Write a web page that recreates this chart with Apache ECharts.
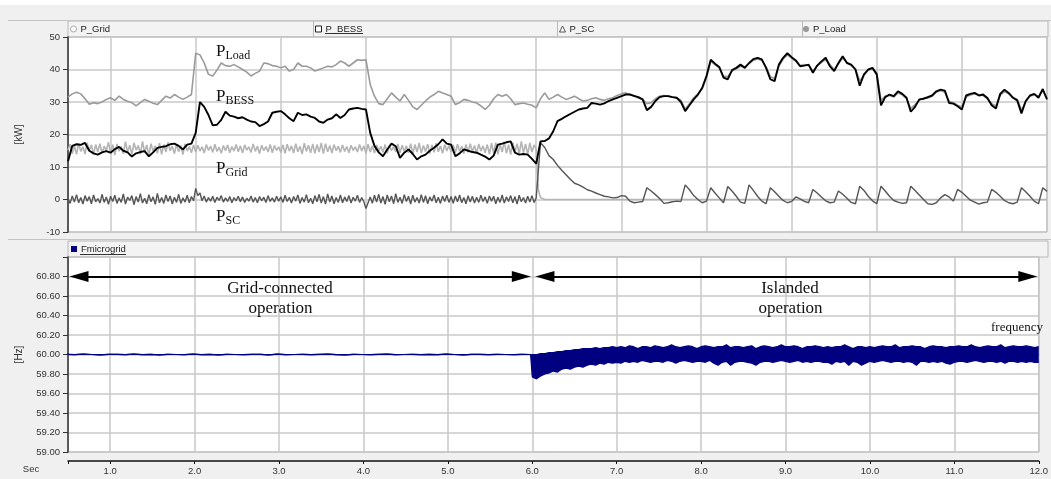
<!DOCTYPE html>
<html><head><meta charset="utf-8">
<script src="https://cdn.jsdelivr.net/npm/echarts@6/dist/echarts.min.js"></script>
<style>html,body{margin:0;padding:0;background:#f0f0f0}#c{width:1051px;height:479px}</style>
</head><body><div id="c"></div><script>
// ---- data ----
const pStart = 0.5, pStep = 0.05;
const pLoad = [
31.5,32.5,33.0,32.5,31.0,29.3,29.8,29.5,30.0,30.8,
31.3,30.5,31.8,30.8,30.2,29.8,28.8,29.8,30.8,30.2,
29.6,29.2,30.5,31.8,31.2,32.3,31.5,30.8,31.5,32.3,
45.0,44.5,42.0,38.5,38.0,39.8,42.0,41.2,41.0,41.5,
40.8,40.0,39.2,38.0,38.8,39.5,42.0,41.8,41.2,41.0,
40.5,41.0,39.5,40.0,42.0,41.0,41.0,40.5,39.5,40.0,
40.5,41.0,40.8,41.5,42.6,42.0,41.0,42.0,43.0,42.8,
43.0,35.4,31.8,29.5,29.2,31.0,32.8,31.5,30.3,32.3,
30.5,28.5,27.7,29.0,30.3,31.5,32.3,33.3,32.8,32.3,
31.8,29.2,29.8,30.8,30.5,30.0,29.7,28.8,27.7,29.0,
31.0,32.3,31.8,32.3,31.0,29.2,29.5,29.7,29.3,29.0,
28.2,31.0,32.8,30.8,31.5,32.3,31.5,30.8,31.2,31.8,
31.0,30.3,30.5,31.0,31.3,30.8,30.5,31.0,31.3,32.0,
32.5,32.8,32.3,31.8,31.2,30.8,29.5,29.8,31.0,31.8,
32.0,31.8,31.5,31.3,30.5,27.8,29.5,31.3,32.5,34.0,
37.5,42.5,41.5,40.5,38.0,37.8,39.5,40.2,41.0,40.8,
41.8,42.8,43.2,42.8,40.8,37.8,37.2,41.0,43.2,44.5,
43.5,42.5,41.2,41.5,41.2,39.5,41.0,42.2,43.0,41.5,
40.0,41.8,43.5,42.2,41.2,40.2,36.5,38.2,39.8,40.2,
39.0,30.5,31.8,32.0,31.5,32.8,32.2,31.0,28.0,29.2,
30.5,31.2,31.2,31.8,33.0,33.5,33.0,30.2,29.8,29.0,
28.5,31.5,32.2,32.5,32.2,32.0,31.0,29.5,28.8,32.0,
33.2,32.5,31.5,30.8,27.5,30.0,31.8,32.2,31.8,33.5,
31.0];
const pBess = [
11.8,16.5,17.0,16.8,17.4,15.0,14.2,13.8,14.5,14.9,
14.4,15.5,16.2,15.0,14.5,13.2,14.2,14.6,14.9,13.3,
14.5,15.9,16.2,16.4,17.0,17.2,16.5,15.4,16.9,17.2,
20.5,30.0,28.5,26.0,22.8,23.0,24.5,27.0,25.8,25.5,
25.0,25.3,24.6,24.0,23.8,22.6,23.2,24.0,26.7,27.0,
27.2,26.2,25.0,24.1,26.7,26.0,26.2,25.5,25.1,24.0,
23.6,24.6,25.0,26.2,25.1,26.0,27.7,28.0,28.2,27.9,
27.7,20.5,16.5,14.5,13.3,15.4,17.2,16.4,12.8,14.4,
15.4,14.0,12.3,13.3,13.8,15.0,15.9,17.0,18.5,17.2,
16.9,13.3,14.2,15.4,15.0,14.6,14.4,13.8,13.2,12.3,
13.5,16.9,17.2,17.6,17.9,14.4,13.8,14.0,13.8,12.5,
11.0,17.9,18.0,18.8,21.0,24.1,24.8,25.6,26.3,27.0,
27.7,28.0,28.2,29.7,29.5,29.2,29.6,30.3,30.8,31.3,
31.8,32.3,32.3,31.9,31.5,30.8,27.5,28.5,30.3,31.5,
31.8,31.8,31.5,31.3,30.0,27.2,29.0,30.8,32.3,34.4,
38.0,43.0,41.8,40.8,37.5,37.0,39.8,40.5,41.5,40.5,
42.0,43.2,43.6,43.1,40.5,37.0,36.4,41.5,43.6,45.0,
43.8,42.8,41.0,41.2,41.5,39.0,41.2,42.5,43.6,41.0,
39.5,42.0,44.1,42.0,41.5,40.0,35.0,38.5,40.0,40.5,
38.5,29.0,31.5,32.3,31.8,33.3,32.5,31.3,27.0,28.5,
30.8,31.0,31.5,32.0,33.3,33.8,33.5,29.7,29.5,28.7,
27.7,32.0,32.5,32.8,32.0,32.3,31.2,29.0,28.0,32.5,
33.8,32.8,31.3,30.5,26.5,30.3,32.0,32.5,31.3,34.0,
30.8];
// grid-connected noisy segments (0.5 s .. 5.975 s, step 0.025)
const noiseStart = 0.5, noiseStep = 0.025;
const pGridNoise = [
15.2,17.0,14.1,16.6,13.9,17.3,14.8,16.2,14.0,17.5,15.1,16.8,13.8,16.9,14.6,17.2,14.2,16.4,15.0,17.6,
14.3,16.9,13.7,17.1,14.9,16.3,14.1,17.8,14.5,16.7,13.9,17.4,15.2,16.6,14.0,17.9,14.4,16.8,13.6,17.2,
14.8,16.5,14.2,17.3,13.9,16.9,14.6,17.6,15.0,16.4,14.1,17.0,14.7,16.6,13.8,17.1,14.9,16.3,14.4,16.8,
14.6,16.7,14.9,16.2,14.3,16.9,15.1,16.4,14.5,17.0,14.8,16.1,14.2,16.6,15.0,16.8,14.4,16.3,14.9,16.9,
14.7,16.5,14.3,16.8,15.2,16.2,14.5,17.1,14.8,16.4,14.1,16.7,15.0,16.3,14.6,16.9,14.4,16.6,15.1,16.2,
14.5,16.8,14.2,17.0,14.9,16.5,14.3,17.2,14.7,16.4,14.0,17.3,14.8,16.7,14.4,17.1,14.2,16.9,14.6,17.4,
14.1,17.2,14.7,16.6,14.3,16.9,15.0,16.4,14.5,16.8,14.8,16.3,14.4,16.7,15.1,16.2,14.6,16.9,14.9,16.5,
14.2,17.0,14.6,16.5,14.3,16.8,14.9,16.4,14.5,16.9,14.2,16.6,15.0,16.3,14.6,17.1,14.4,16.7,14.8,16.5,
14.4,17.2,14.0,16.9,14.6,17.4,14.3,16.6,14.8,17.0,14.1,16.8,14.5,17.3,14.7,16.5,14.2,16.9,14.9,16.6,
14.6,16.8,14.3,17.0,14.8,16.4,14.1,16.9,14.5,17.2,14.7,16.6,14.2,17.1,14.9,16.5,14.4,16.9,14.0,17.3,
14.3,17.5,13.9,17.0,14.6,17.8,14.2,16.9,13.8,17.6,14.5,17.2,14.0,17.9,14.4,17.1,13.9,17.4,14.6,16.8];
const pGridAfterT = [6.0, 6.025, 6.05, 6.1, 12.0];
const pGridAfter  = [15.5, 3.0, 0.6, 0.0, 0.0];
const pScNoise = [
0.4,-1.2,1.1,-0.8,1.5,-1.0,0.6,-1.4,1.2,-0.5,0.9,-1.3,1.4,-0.7,0.3,-1.1,1.6,-0.9,0.8,-1.5,
1.0,-0.6,1.3,-1.2,0.5,-0.9,1.7,-1.4,0.7,-0.3,1.2,-1.6,0.9,-0.8,1.8,-1.1,0.4,-1.3,1.5,-0.7,
0.8,-1.5,1.9,-1.0,0.6,-1.2,1.4,-0.6,1.1,-1.4,0.7,-0.9,1.6,-1.2,0.5,-0.8,1.3,-1.0,0.9,-0.4,
3.4,1.2,2.0,-0.4,1.1,-0.8,0.6,-0.5,1.0,-0.9,0.7,-0.3,1.2,-0.8,0.5,-0.6,0.9,-1.0,0.6,-0.4,
1.0,-0.7,0.8,-0.9,0.4,-0.5,1.1,-0.8,0.6,-1.0,0.9,-0.4,0.7,-0.9,1.2,-0.6,0.5,-0.8,1.0,-0.5,
0.8,-0.9,1.3,-0.6,0.7,-1.1,0.9,-0.5,1.4,-1.2,0.6,-0.8,1.5,-1.0,0.4,-1.3,1.2,-0.7,1.6,-1.1,
0.9,-1.4,1.7,-0.8,1.1,-1.3,0.6,-0.9,1.4,-1.0,0.8,-0.6,1.2,-1.1,0.7,-0.5,1.3,-0.9,0.6,-0.7,
-2.8,-1.0,0.8,-1.2,1.3,-0.8,1.6,-1.1,0.9,-1.5,1.4,-0.7,1.1,-1.3,1.8,-0.9,0.7,-1.2,1.5,-0.6,
1.0,-1.4,1.3,-0.8,0.6,-1.1,1.5,-0.9,1.2,-1.3,0.8,-0.5,1.4,-1.0,0.7,-1.2,1.1,-0.6,1.3,-0.9,
0.9,-1.2,1.1,-0.7,1.4,-1.0,0.6,-1.3,1.2,-0.8,1.0,-1.1,0.7,-0.9,1.3,-0.6,0.8,-1.2,1.1,-0.5,
1.0,-1.3,0.7,-0.9,1.4,-1.1,0.8,-0.6,1.2,-1.0,0.9,-1.4,1.3,-0.7,0.6,-1.1,1.0,-0.8,1.2,-0.9];
// islanded P_SC (6.0 .. 12.0 s, step 0.05)
const scAfterStart = 6.0, scAfterStep = 0.05;
const pScAfter = [
0.5,17.5,16.0,13.5,12.3,10.5,9.0,7.6,6.2,5.0,
4.5,3.8,3.0,2.6,2.0,1.5,1.0,0.8,0.5,0.6,
1.2,1.0,-0.5,-1.0,-0.8,-0.6,3.6,2.6,1.5,0.3,
-1.2,-1.0,-0.7,-0.5,-0.6,4.5,3.0,1.2,0.0,-1.0,
-0.5,3.6,2.0,0.5,-1.0,4.0,2.6,1.0,-0.8,-1.2,
4.5,2.8,1.0,-0.5,-1.3,3.6,2.4,1.0,-0.3,-1.0,
-0.6,0.8,0.2,-0.6,-1.0,3.1,2.0,0.8,-0.4,-1.0,
-0.8,2.6,1.6,0.4,-0.9,-1.3,4.1,2.8,1.0,-0.4,
-1.3,4.1,2.6,1.0,-0.3,-0.8,-1.2,-1.0,4.1,2.8,
1.4,0.0,-1.3,-1.5,-1.0,0.5,1.5,0.8,-0.5,3.1,
2.2,1.0,-0.2,-0.8,-1.4,-1.0,-0.8,3.1,2.2,1.0,
-0.3,-1.0,-1.3,-0.8,3.6,2.4,1.0,-0.5,-1.3,3.6,
2.5];
// frequency: grid-connected trace (0.48 .. 5.98 s, step 0.1)
const fGridStart = 0.48, fGridStep = 0.1;
const fGrid = [
60.002,59.998,60.003,60.000,59.997,60.002,60.001,59.998,60.003,59.999,
60.001,59.997,60.002,60.000,59.998,60.003,59.999,60.001,59.996,60.002,
60.000,59.998,60.002,60.001,59.997,60.003,59.999,60.000,60.002,59.998,
60.001,60.003,59.999,59.997,60.002,60.000,59.998,60.001,60.003,59.999,
60.000,60.002,59.998,60.001,59.999,60.003,60.000,59.997,60.002,60.001,
59.999,60.002,60.000,59.998,60.001,60.000];
// frequency: islanded noise envelope (6.0 .. 12.0 s, step 0.05)
const fIslandStart = 6.0, fIslandStep = 0.05;
const fUpper = [
60.00,60.00,60.01,60.01,60.02,60.02,60.03,60.03,60.04,60.04,
60.05,60.05,60.06,60.06,60.06,60.07,60.06,60.07,60.07,60.08,
60.07,60.08,60.07,60.09,60.08,60.06,60.08,60.08,60.07,60.09,
60.08,60.07,60.08,60.10,60.08,60.07,60.08,60.09,60.08,60.06,
60.08,60.09,60.08,60.07,60.08,60.08,60.10,60.07,60.08,60.08,
60.07,60.08,60.09,60.06,60.08,60.09,60.08,60.07,60.08,60.10,
60.08,60.08,60.09,60.08,60.06,60.08,60.08,60.09,60.08,60.07,
60.08,60.07,60.08,60.08,60.10,60.08,60.06,60.08,60.08,60.07,
60.08,60.07,60.08,60.09,60.08,60.08,60.10,60.07,60.08,60.08,
60.09,60.08,60.08,60.06,60.08,60.09,60.08,60.08,60.07,60.08,
60.08,60.09,60.08,60.08,60.10,60.08,60.07,60.08,60.09,60.08,
60.08,60.10,60.07,60.08,60.09,60.08,60.08,60.09,60.08,60.07,
60.08];
const fLower = [
59.77,59.75,59.78,59.80,59.81,59.83,59.82,59.85,59.86,59.85,
59.87,59.88,59.87,59.89,59.90,59.89,59.91,59.90,59.92,59.91,
59.92,59.91,59.93,59.92,59.93,59.92,59.94,59.93,59.92,59.93,
59.93,59.92,59.94,59.93,59.91,59.93,59.94,59.93,59.92,59.93,
59.93,59.92,59.94,59.91,59.89,59.92,59.93,59.89,59.92,59.93,
59.93,59.92,59.91,59.89,59.92,59.93,59.93,59.92,59.93,59.94,
59.93,59.92,59.93,59.94,59.92,59.93,59.92,59.93,59.93,59.92,
59.92,59.90,59.93,59.92,59.93,59.89,59.93,59.92,59.89,59.91,
59.93,59.92,59.93,59.94,59.93,59.92,59.93,59.93,59.92,59.93,
59.92,59.89,59.93,59.93,59.92,59.93,59.92,59.93,59.91,59.90,
59.92,59.93,59.93,59.92,59.93,59.94,59.93,59.92,59.93,59.93,
59.92,59.93,59.91,59.93,59.93,59.92,59.93,59.92,59.93,59.92,
59.92];
// annotation arrows (time spans of operating modes; arrow-head centres)
const modeSpans = [[0.63, 5.87], [6.15, 11.87]];
const arrowLevel = 60.8;

// ---- build ----
function seq(start, step, arr) { return arr.map((v, i) => [+(start + i * step).toFixed(4), v]); }
const FONT = 'Liberation Sans';
const NAVY = '#000080';

const gridData = seq(noiseStart, noiseStep, pGridNoise).concat(pGridAfterT.map((t, i) => [t, pGridAfter[i]]));
const scData = seq(noiseStart, noiseStep, pScNoise).concat(seq(scAfterStart, scAfterStep, pScAfter));
const fLowData = seq(fGridStart, fGridStep, fGrid).concat(seq(fIslandStart, fIslandStep, fLower));
const fHighData = seq(fGridStart, fGridStep, fGrid).concat(seq(fIslandStart, fIslandStep, fUpper));

const chart = echarts.init(document.getElementById('c'), null, {renderer: 'canvas'});
const gridLine = {lineStyle: {color: '#c9c9c9', width: 1.5}};
const xFmt = v => Math.abs(v - Math.round(v)) < 1e-6 ? v.toFixed(1) : '';

function xAxisBase(idx) {
  return {type: 'value', gridIndex: idx, min: 0.5, max: 12, splitNumber: 12,
    splitLine: Object.assign({show: true}, gridLine)};
}
const tStyle = (font, align) => ({font: font, fill: '#111', align: align, verticalAlign: 'middle', textAlign: align, textVerticalAlign: 'middle'});

const option = {
  animation: false,
  backgroundColor: '#f0f0f0',
  textStyle: {fontFamily: FONT},
  grid: [
    {left: 68, right: 4, top: 37, height: 195, show: true, backgroundColor: '#ffffff', borderColor: '#a8a8a8', borderWidth: 1},
    {left: 68, right: 4, top: 257, height: 195, show: true, backgroundColor: '#ffffff', borderColor: '#a8a8a8', borderWidth: 1}
  ],
  xAxis: [
    Object.assign(xAxisBase(0), {axisLine: {show: false}, axisTick: {show: false}, axisLabel: {show: false}}),
    Object.assign(xAxisBase(1), {
      offset: 9,
      axisLine: {show: true, onZero: false, lineStyle: {color: '#111', width: 1.5}},
      axisTick: {show: true, inside: false, length: 3, lineStyle: {color: '#111'}},
      axisLabel: {show: true, formatter: xFmt, fontSize: 9.5, color: '#333', margin: 5, fontFamily: FONT}
    })
  ],
  yAxis: [
    {type: 'value', gridIndex: 0, min: -10, max: 50, interval: 10,
      name: '[kW]', nameLocation: 'middle', nameRotate: 90, nameGap: 44,
      nameTextStyle: {fontSize: 10, color: '#333', fontFamily: FONT},
      axisLine: {show: true, onZero: false, lineStyle: {color: '#333', width: 1.5}},
      axisTick: {show: true, length: 5, lineStyle: {color: '#333'}},
      axisLabel: {fontSize: 9.5, color: '#333', margin: 8, fontFamily: FONT},
      splitLine: Object.assign({show: true}, gridLine)},
    {type: 'value', gridIndex: 1, min: 59, max: 61, interval: 0.2,
      name: '[Hz]', nameLocation: 'middle', nameRotate: 90, nameGap: 44,
      nameTextStyle: {fontSize: 10, color: '#333', fontFamily: FONT},
      axisLine: {show: true, onZero: false, lineStyle: {color: '#333', width: 1.5}},
      axisTick: {show: true, length: 5, lineStyle: {color: '#333'}},
      axisLabel: {fontSize: 9.5, color: '#333', margin: 8, fontFamily: FONT,
        formatter: v => v > 60.99 ? '' : v.toFixed(2)},
      splitLine: Object.assign({show: true}, gridLine)}
  ],
  legend: [
    {data: [{name: 'P_Grid', icon: 'circle', itemStyle: {color: '#fff', borderColor: '#aaa', borderWidth: 1}}], left: 70, top: 24},
    {data: [{name: 'P_BESS', icon: 'rect', itemStyle: {color: '#fff', borderColor: '#222', borderWidth: 1}}], left: 315, top: 24},
    {data: [{name: 'P_SC', icon: 'triangle', itemStyle: {color: '#fff', borderColor: '#555', borderWidth: 1}}], left: 559, top: 24},
    {data: [{name: 'P_Load', icon: 'circle', itemStyle: {color: '#999', borderColor: '#999', borderWidth: 0}}], left: 803, top: 24},
    {data: [{name: 'Fmicrogrid', icon: 'rect', itemStyle: {color: NAVY, borderWidth: 0}}], left: 71, top: 244}
  ].map(l => Object.assign(l, {itemWidth: 6, itemHeight: 6, padding: 0, selectedMode: false,
      textStyle: {fontSize: 9.5, color: '#222', fontFamily: FONT, padding: [0, 0, 0, -1]}})),
  graphic: [
    {type: 'rect', shape: {x: 0, y: 0, width: 1051, height: 5}, style: {fill: '#ffffff'}, z: -5, silent: true},
    {type: 'line', shape: {x1: 8, y1: 20.5, x2: 1051, y2: 20.5}, style: {stroke: '#c4c4c4', lineWidth: 1}, silent: true},
    {type: 'rect', shape: {x: 68, y: 21, width: 980, height: 16}, style: {fill: '#f3f3f3', stroke: '#b8b8b8', lineWidth: 1}, z: -1, silent: true},
    {type: 'line', shape: {x1: 313.5, y1: 21, x2: 313.5, y2: 37}, style: {stroke: '#b8b8b8', lineWidth: 1}, silent: true},
    {type: 'line', shape: {x1: 557.5, y1: 21, x2: 557.5, y2: 37}, style: {stroke: '#b8b8b8', lineWidth: 1}, silent: true},
    {type: 'line', shape: {x1: 802.5, y1: 21, x2: 802.5, y2: 37}, style: {stroke: '#b8b8b8', lineWidth: 1}, silent: true},
    {type: 'line', shape: {x1: 8, y1: 239.5, x2: 1051, y2: 239.5}, style: {stroke: '#c4c4c4', lineWidth: 1}, silent: true},
    {type: 'rect', shape: {x: 68, y: 241, width: 980, height: 16}, style: {fill: '#f3f3f3', stroke: '#b8b8b8', lineWidth: 1}, z: -1, silent: true},
    {type: 'line', shape: {x1: 325, y1: 33.5, x2: 363, y2: 33.5}, style: {stroke: '#333', lineWidth: 1}, silent: true},
    {type: 'line', shape: {x1: 80, y1: 254.5, x2: 126, y2: 254.5}, style: {stroke: '#333', lineWidth: 1}, silent: true},
    {type: 'text', x: 31, y: 469, style: Object.assign(tStyle('9.5px "Liberation Sans"', 'center'), {text: 'Sec', fill: '#333'}), silent: true},
    // curve labels
    ...[['Load', 52, 56], ['BESS', 96.5, 100.7], ['Grid', 169, 173], ['SC', 216.5, 220.5]].flatMap(([s, yP, yS]) => [
      {type: 'text', x: 216, y: yP, z: 50, style: Object.assign(tStyle('17px "Liberation Serif"', 'left'), {text: 'P'}), silent: true},
      {type: 'text', x: 225.5, y: yS, z: 50, style: Object.assign(tStyle('12px "Liberation Serif"', 'left'), {text: s}), silent: true}
    ]),
    ...[['Grid-connected', 280, 288.5], ['operation', 280.5, 308.5], ['Islanded', 790, 288.5], ['operation', 790.5, 308.5]].map(([s, x, y]) => (
      {type: 'text', x: x, y: y, z: 50, style: Object.assign(tStyle('17px "Liberation Serif"', 'center'), {text: s}), silent: true})),
    {type: 'text', x: 1017, y: 328, z: 50, style: Object.assign(tStyle('13px "Liberation Serif"', 'center'), {text: 'frequency'}), silent: true}
  ],
  series: [
    {name: 'P_Grid', type: 'line', xAxisIndex: 0, yAxisIndex: 0, data: gridData, showSymbol: false, symbol: 'none',
      lineStyle: {color: '#b4b4b4', width: 1.6}, itemStyle: {color: '#b4b4b4'}, z: 2},
    {name: 'P_Load', type: 'line', xAxisIndex: 0, yAxisIndex: 0, data: seq(pStart, pStep, pLoad), showSymbol: false, symbol: 'none',
      lineStyle: {color: '#9a9a9a', width: 1.6}, itemStyle: {color: '#9a9a9a'}, z: 3},
    {name: 'P_SC', type: 'line', xAxisIndex: 0, yAxisIndex: 0, data: scData, showSymbol: false, symbol: 'none',
      lineStyle: {color: '#555555', width: 1.4}, itemStyle: {color: '#555'}, z: 4},
    {name: 'P_BESS', type: 'line', xAxisIndex: 0, yAxisIndex: 0, data: seq(pStart, pStep, pBess), showSymbol: false, symbol: 'none',
      lineStyle: {color: '#000000', width: 1.9}, itemStyle: {color: '#000'}, z: 5},
    // lower edge of the frequency trace, filled up to just above nominal
    {name: 'Fmicrogrid (low)', type: 'line', xAxisIndex: 1, yAxisIndex: 1, data: fLowData, showSymbol: false, symbol: 'none',
      lineStyle: {color: NAVY, width: 1.2}, itemStyle: {color: NAVY}, areaStyle: {color: NAVY, opacity: 1, origin: 60.006}, z: 3,
      markLine: {silent: true, symbol: ['triangle', 'triangle'], symbolSize: [11, 19], animation: false,
        lineStyle: {color: '#000', width: 2, type: 'solid'}, label: {show: false},
        data: modeSpans.map(([a, b]) => [{coord: [a, arrowLevel]}, {coord: [b, arrowLevel]}])}},
    // upper edge of the frequency trace, filled down to just below nominal
    {name: 'Fmicrogrid', type: 'line', xAxisIndex: 1, yAxisIndex: 1, data: fHighData, showSymbol: false, symbol: 'none',
      lineStyle: {color: NAVY, width: 1.2}, itemStyle: {color: NAVY}, areaStyle: {color: NAVY, opacity: 1, origin: 59.994}, z: 3}
  ]
};
chart.setOption(option);
</script></body></html>
